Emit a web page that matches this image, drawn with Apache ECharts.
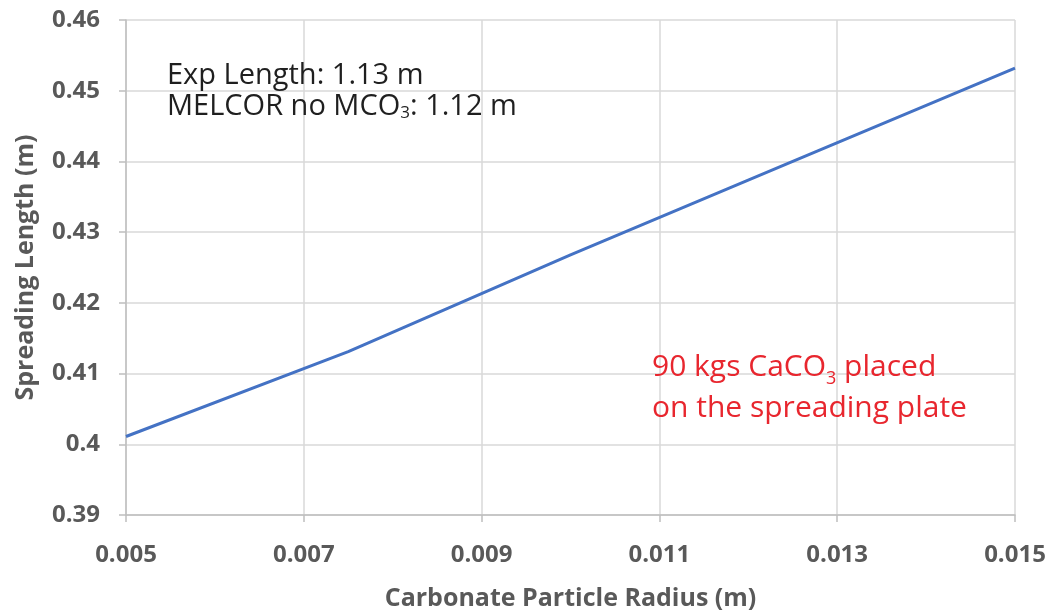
<!DOCTYPE html>
<html>
<head>
<meta charset="utf-8">
<script src="https://cdn.jsdelivr.net/npm/echarts@6/dist/echarts.min.js"></script>
<style>
  html, body { margin: 0; padding: 0; background: #fff; }
  #chart { width: 1055px; height: 616px; }
</style>
</head>
<body>
<div id="chart"></div>
<script>
// Spreading length versus carbonate particle radius
const radius = [0.005, 0.0075, 0.01, 0.0125, 0.015];
const spreadLength = [0.4011, 0.4131, 0.4268, 0.4400, 0.4532];
const xTickValues = [0.005, 0.007, 0.009, 0.011, 0.013, 0.015];

const FONT = '"Open Sans", "Noto Sans", sans-serif';
const AXIS_GRAY = '#595959';

const chart = echarts.init(document.getElementById('chart'), null, { renderer: 'canvas' });

chart.setOption({
  backgroundColor: '#ffffff',
  animation: false,
  grid: { left: 126, right: 40, top: 20, bottom: 99, containLabel: false },
  xAxis: {
    type: 'value',
    min: 0.005,
    max: 0.015,
    name: 'Carbonate Particle Radius (m)',
    nameLocation: 'middle',
    nameGap: 71,
    nameTextStyle: { color: AXIS_GRAY, fontFamily: FONT, fontWeight: 'bold', fontSize: 25 },
    axisLine: { show: true, lineStyle: { color: '#bfbfbf', width: 1.5 } },
    axisTick: { show: true, length: 7, customValues: xTickValues, lineStyle: { color: '#bfbfbf', width: 1.5 } },
    axisLabel: {
      customValues: xTickValues,
      margin: 28,
      color: AXIS_GRAY, fontFamily: FONT, fontWeight: 'bold', fontSize: 24,
      formatter: v => v.toFixed(3)
    },
    splitLine: { show: true, lineStyle: { color: '#d9d9d9', width: 1.5 } }
  },
  yAxis: {
    type: 'value',
    min: 0.39,
    max: 0.46,
    interval: 0.01,
    name: 'Spreading Length (m)',
    nameLocation: 'middle',
    nameGap: 88,
    nameTextStyle: { color: AXIS_GRAY, fontFamily: FONT, fontWeight: 'bold', fontSize: 25 },
    axisLine: { show: true, lineStyle: { color: '#bfbfbf', width: 1.5 } },
    axisTick: { show: true, length: 7, lineStyle: { color: '#bfbfbf', width: 1.5 } },
    axisLabel: {
      margin: 26,
      color: AXIS_GRAY, fontFamily: FONT, fontWeight: 'bold', fontSize: 24,
      formatter: v => String(Math.round(v * 100) / 100)
    },
    splitLine: { show: true, lineStyle: { color: '#d9d9d9', width: 1.5 } }
  },
  series: [{
    type: 'line',
    data: radius.map((r, i) => [r, spreadLength[i]]),
    showSymbol: false,
    smooth: false,
    lineStyle: { color: '#4472c4', width: 3 },
    z: 5
  }],
  graphic: [
    {
      type: 'text',
      left: 167,
      top: 61,
      style: {
        text: '{t|Exp Length: 1.13 m}\n{t|MELCOR no MCO}{s|3}{t|: 1.12 m}',
        rich: {
          t: { fontFamily: FONT, fontSize: 29, fill: '#1f1f1f', lineHeight: 31, verticalAlign: 'middle' },
          s: { fontFamily: FONT, fontSize: 17, fill: '#1f1f1f', lineHeight: 15, verticalAlign: 'bottom' }
        }
      },
      z: 10
    },
    {
      type: 'text',
      left: 652,
      top: 352,
      style: {
        text: '{t|90 kgs CaCO}{s|3}{t| placed}\n{t|on the spreading plate}',
        rich: {
          t: { fontFamily: FONT, fontSize: 30, fill: '#e8262e', lineHeight: 41, verticalAlign: 'middle' },
          s: { fontFamily: FONT, fontSize: 18, fill: '#e8262e', lineHeight: 20, verticalAlign: 'bottom' }
        }
      },
      z: 10
    }
  ]
});
</script>
</body>
</html>
